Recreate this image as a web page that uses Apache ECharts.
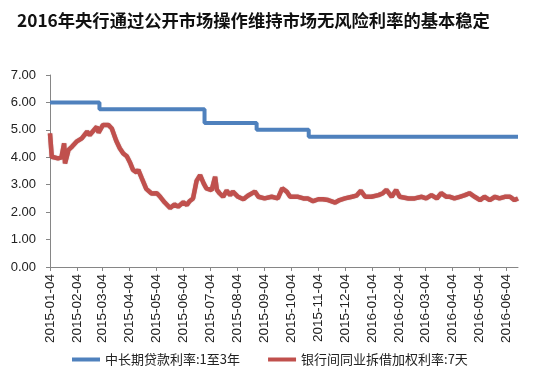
<!DOCTYPE html>
<html>
<head>
<meta charset="utf-8">
<script src="https://cdn.jsdelivr.net/npm/echarts@6/dist/echarts.min.js"></script>
<style>
html,body{margin:0;padding:0;background:#fff;}
#chart{width:555px;height:386px;}
</style>
</head>
<body>
<div id="chart"></div>
<script>
var titleText = '2016年央行通过公开市场操作维持市场无风险利率的基本稳定';
var seriesNames = ['中长期贷款利率:1至3年', '银行间同业拆借加权利率:7天'];
var xTickLabels = ['2015-01-04','2015-02-04','2015-03-04','2015-04-04','2015-05-04','2015-06-04','2015-07-04','2015-08-04','2015-09-04','2015-10-04','2015-11-04','2015-12-04','2016-01-04','2016-02-04','2016-03-04','2016-04-04','2016-05-04','2016-06-04'];
var xStart = '2015-01-04';
var xEnd = '2016-06-17';

// 中长期贷款利率 (step changes)
var loanDates = ['2015-01-04','2015-03-01','2015-06-28','2015-08-26','2015-10-24','2016-06-17'];
var loanValues = [6.00, 5.75, 5.25, 5.00, 4.75, 4.75];

// 银行间同业拆借加权利率:7天
var iborDates = ['2015-01-04','2015-01-06','2015-01-08','2015-01-13','2015-01-17','2015-01-20','2015-01-21','2015-01-25','2015-01-29','2015-02-03','2015-02-09','2015-02-15','2015-02-18','2015-02-26','2015-02-28','2015-03-05','2015-03-11','2015-03-15','2015-03-20','2015-03-24','2015-03-28','2015-04-01','2015-04-05','2015-04-08','2015-04-12','2015-04-14','2015-04-18','2015-04-23','2015-04-29','2015-05-05','2015-05-09','2015-05-14','2015-05-20','2015-05-25','2015-05-29','2015-06-04','2015-06-08','2015-06-11','2015-06-15','2015-06-19','2015-06-23','2015-06-27','2015-06-30','2015-07-06','2015-07-10','2015-07-12','2015-07-15','2015-07-19','2015-07-23','2015-07-27','2015-07-30','2015-08-05','2015-08-11','2015-08-16','2015-08-24','2015-08-28','2015-09-04','2015-09-12','2015-09-19','2015-09-24','2015-09-29','2015-10-03','2015-10-12','2015-10-18','2015-10-23','2015-10-29','2015-11-04','2015-11-09','2015-11-15','2015-11-23','2015-11-28','2015-12-04','2015-12-12','2015-12-17','2015-12-22','2015-12-27','2016-01-03','2016-01-11','2016-01-16','2016-01-20','2016-01-26','2016-01-31','2016-02-04','2016-02-14','2016-02-21','2016-02-29','2016-03-05','2016-03-11','2016-03-17','2016-03-22','2016-03-28','2016-04-01','2016-04-06','2016-04-12','2016-04-18','2016-04-23','2016-04-29','2016-05-05','2016-05-10','2016-05-16','2016-05-22','2016-05-27','2016-06-02','2016-06-08','2016-06-13','2016-06-17'];
var iborValues = [4.87,4.02,4.02,3.96,4.00,4.51,3.78,4.27,4.39,4.57,4.69,4.93,4.81,5.11,4.90,5.18,5.18,5.05,4.60,4.33,4.14,4.04,3.78,3.54,3.45,3.54,3.23,2.85,2.68,2.69,2.55,2.35,2.15,2.28,2.20,2.36,2.26,2.40,2.50,3.14,3.35,3.05,2.87,2.80,3.29,2.81,2.69,2.56,2.78,2.62,2.75,2.56,2.47,2.60,2.75,2.56,2.50,2.56,2.50,2.87,2.75,2.56,2.56,2.50,2.50,2.40,2.47,2.47,2.44,2.35,2.44,2.50,2.56,2.60,2.78,2.56,2.56,2.62,2.69,2.81,2.56,2.81,2.56,2.50,2.50,2.56,2.50,2.62,2.50,2.69,2.56,2.56,2.50,2.56,2.62,2.69,2.56,2.44,2.56,2.44,2.56,2.50,2.56,2.56,2.44,2.50];

function ts(s){ var p = s.split('-'); return Date.UTC(+p[0], +p[1]-1, +p[2]); }
function zip(d, v){ return d.map(function(x,i){ return [ts(x), v[i]]; }); }
var tickValues = xTickLabels.map(ts);

var chart = echarts.init(document.getElementById('chart'));
chart.setOption({
  animation: false,
  backgroundColor: '#fff',
  title: {
    text: titleText, left: 12, top: 7,
    textStyle: {fontFamily: 'Noto Sans CJK SC', fontSize: 17.3, fontWeight: 'bold', color: '#111'}
  },
  grid: {left: 50, right: 37, top: 75, bottom: 119},
  legend: {
    left: 67, top: 348, itemWidth: 28, itemHeight: 4, itemGap: 28,
    icon: 'rect',
    textStyle: {fontFamily: 'Noto Sans CJK SC', fontSize: 13, color: '#222'},
    data: seriesNames
  },
  xAxis: {
    type: 'value', min: ts(xStart), max: ts(xEnd),
    axisLine: {lineStyle: {color: '#868686', width: 1}},
    axisTick: {show: true, customValues: tickValues, length: 4, lineStyle: {color: '#868686'}},
    axisLabel: {
      customValues: tickValues, rotate: 90, margin: 7,
      fontFamily: 'Liberation Sans', fontSize: 13.5, color: '#222',
      formatter: function(v){ var i = tickValues.indexOf(v); return i >= 0 ? xTickLabels[i] : ''; }
    },
    splitLine: {show: false}
  },
  yAxis: {
    type: 'value', min: 0, max: 7, interval: 1,
    axisLine: {show: true, lineStyle: {color: '#868686', width: 1}},
    axisTick: {show: true, length: 4, lineStyle: {color: '#868686'}},
    axisLabel: {fontFamily: 'Liberation Sans', fontSize: 13, color: '#222', margin: 14,
      formatter: function(v){ return v.toFixed(2); }},
    splitLine: {show: false}
  },
  series: [
    {name: seriesNames[0], type: 'line', step: 'end', showSymbol: false,
     data: zip(loanDates, loanValues), color: '#4f81bd',
     lineStyle: {width: 4, color: '#4f81bd'}},
    {name: seriesNames[1], type: 'line', showSymbol: false,
     data: zip(iborDates, iborValues), color: '#c0504d',
     lineStyle: {width: 4.5, color: '#c0504d', shadowColor: 'rgba(120,30,30,0.5)', shadowBlur: 1}}
  ]
});
</script>
</body>
</html>
